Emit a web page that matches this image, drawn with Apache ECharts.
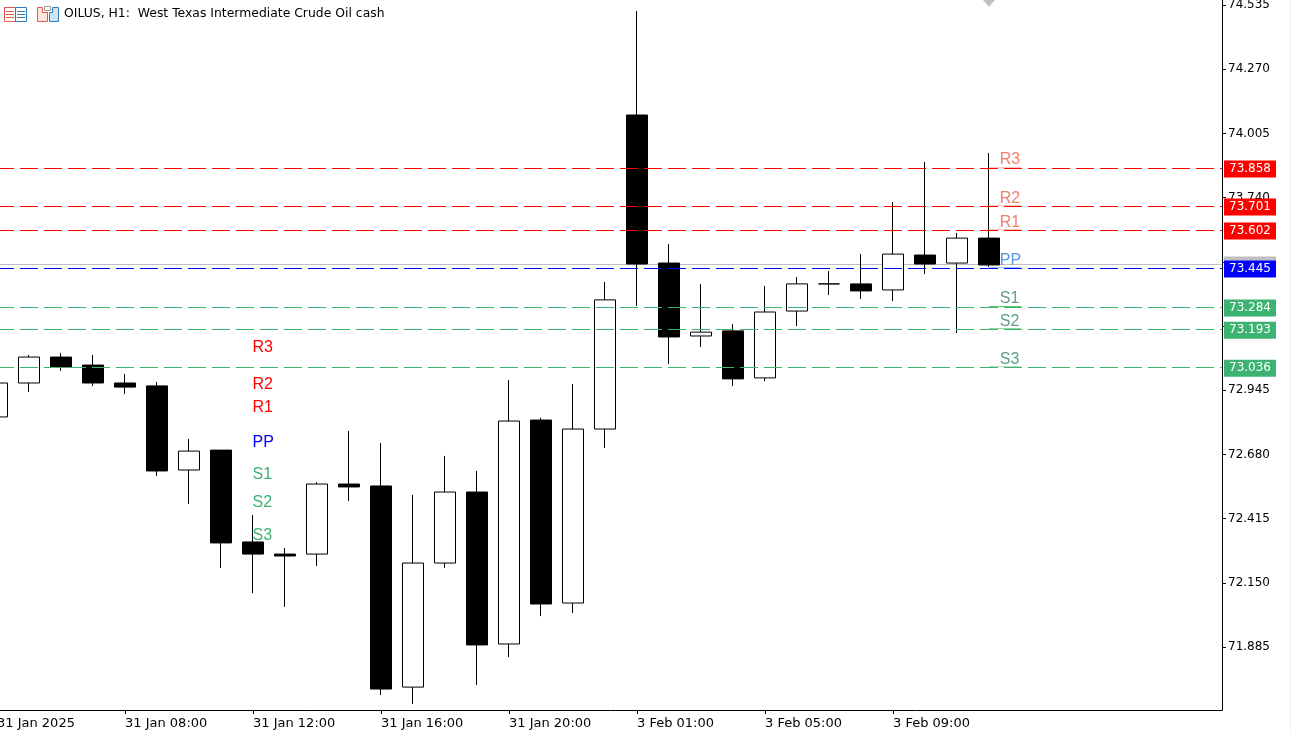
<!DOCTYPE html>
<html>
<head>
<meta charset="utf-8">
<title>OILUS, H1</title>
<style>
html, body { margin: 0; padding: 0; background: #fff; }
#chart { width: 1291px; height: 732px; }
</style>
<script src="https://cdn.jsdelivr.net/npm/echarts@6/dist/echarts.min.js"></script>
</head>
<body>
<div id="chart"></div>
<script>
// candles, index 0 is the 31 Jan 04:00 bar
var opens  = [72.835, 72.975, 73.082, 73.049, 72.975, 72.963, 72.616, 72.698, 72.319, 72.269, 72.269, 72.558, 72.550, 71.720, 72.232, 72.525, 71.898, 72.822, 72.067, 72.785, 74.081, 73.470, 73.169, 73.190, 72.996, 73.272, 73.384, 73.384, 73.359, 73.503, 73.470, 73.573];
var closes = [72.975, 73.082, 73.041, 72.975, 72.958, 72.612, 72.694, 72.315, 72.269, 72.261, 72.558, 72.546, 71.712, 72.232, 72.525, 71.894, 72.818, 72.063, 72.785, 73.318, 73.466, 73.165, 73.185, 72.992, 73.268, 73.384, 73.384, 73.355, 73.507, 73.466, 73.573, 73.462];
var lows   = [72.800, 72.938, 73.025, 72.963, 72.930, 72.591, 72.476, 72.212, 72.108, 72.051, 72.220, 72.488, 71.687, 71.650, 72.212, 71.729, 71.844, 72.013, 72.026, 72.707, 73.293, 73.053, 73.124, 72.963, 72.983, 73.210, 73.338, 73.322, 73.313, 73.425, 73.181, 73.454];
var highs  = [73.000, 73.091, 73.099, 73.091, 73.012, 72.979, 72.744, 72.698, 72.430, 72.294, 72.566, 72.777, 72.727, 72.513, 72.674, 72.612, 72.987, 72.831, 72.971, 73.392, 74.510, 73.549, 73.384, 73.218, 73.375, 73.412, 73.437, 73.507, 73.722, 73.887, 73.594, 73.924];

var yTicks = [74.535, 74.270, 74.005, 73.740, 73.475, 73.210, 72.945, 72.680, 72.415, 72.150, 71.885];
// 73.475 and 73.210 are hidden behind the price tags
var yTickLabels = [74.535, 74.270, 74.005, 73.740, 72.945, 72.680, 72.415, 72.150, 71.885];
var xTicks = [0, 4, 8, 12, 16, 20, 24, 28];
var xTickLabels = ['31 Jan 2025', '31 Jan 08:00', '31 Jan 12:00', '31 Jan 16:00', '31 Jan 20:00', '3 Feb 01:00', '3 Feb 05:00', '3 Feb 09:00'];

// current pivot levels
var levelNames = ['R3', 'R2', 'R1', 'PP', 'S1', 'S2', 'S3'];
var levelValues = [73.858, 73.701, 73.602, 73.445, 73.284, 73.193, 73.036];
var lastPrice = 73.462;

// pivot texts, older set on the left and current set on the right
var oldLabelValues = [73.121, 72.968, 72.873, 72.729, 72.595, 72.481, 72.345];
var newLabelValues = [73.895, 73.737, 73.638, 73.481, 73.324, 73.229, 73.072];

var levelColors = ['#ff0000', '#ff0000', '#ff0000', '#0000ff', '#3cb371', '#3cb371', '#3cb371'];
var oldLabelColors = ['#ff0000', '#ff0000', '#ff0000', '#0000ff', '#3cb371', '#3cb371', '#3cb371'];
var newLabelColors = ['#ef8070', '#ef8070', '#ef8070', '#5b96e6', '#5f9f7f', '#5f9f7f', '#5f9f7f'];
var underlineColors = ['#fbc4bc', '#fbc4bc', '#fbc4bc', '#9cc4f2', '#5fc46f', '#8fd89a', '#b5e2bd'];

var oldLabelX = 7.97;
var newLabelX = 31.32;
var lastBar = 31;
var uiFont = '"DejaVu Sans", sans-serif';

var candleData = [];
for (var i = 0; i < opens.length; i++) {
    candleData.push([i, opens[i], closes[i], lows[i], highs[i]]);
}

function labelPoints(x, values, names, colors) {
    return values.map(function (v, i) {
        return {
            value: [x, v],
            label: { formatter: names[i], color: colors[i] }
        };
    });
}

// snap a price to a whole pixel row so the 1px lines stay crisp
function priceRow(api, v) {
    return Math.floor(api.coord([0, v])[1] - 0.5) + 0.5;
}

function renderLevel(params, api) {
    var y = priceRow(api, levelValues[params.dataIndex]);
    var box = params.coordSys;
    return {
        type: 'line',
        shape: { x1: box.x, y1: y, x2: box.x + box.width, y2: y },
        style: {
            stroke: levelColors[params.dataIndex],
            lineWidth: 1,
            lineDash: [18, 6],
            lineDashOffset: 1
        }
    };
}

function renderUnderline(params, api) {
    var y = priceRow(api, levelValues[params.dataIndex]) - 1;
    return {
        type: 'line',
        shape: {
            x1: api.coord([lastBar, 0])[0],
            y1: y,
            x2: api.coord([lastBar + 1, 0])[0],
            y2: y
        },
        style: { stroke: underlineColors[params.dataIndex], lineWidth: 1 }
    };
}

function renderLastPrice(params, api) {
    var y = priceRow(api, lastPrice);
    var box = params.coordSys;
    return {
        type: 'line',
        shape: { x1: box.x, y1: y, x2: box.x + box.width, y2: y },
        style: { stroke: '#c0c0c0', lineWidth: 1 }
    };
}

var textSeries = {
    type: 'scatter',
    symbolSize: 1,
    itemStyle: { color: 'rgba(0,0,0,0)', opacity: 1 },
    silent: true,
    z: 6,
    label: {
        show: true,
        position: 'right',
        distance: 0,
        fontFamily: '"Liberation Sans", Arial, sans-serif',
        fontSize: 16
    }
};

var tagLabel = {
    position: 'end',
    distance: 2,
    padding: [2, 5],
    lineHeight: 13,
    color: '#fff',
    fontFamily: uiFont,
    fontSize: 12,
    formatter: function (p) { return p.value.toFixed(3); }
};

var myChart = echarts.init(document.getElementById('chart'));
var option = {
    animation: false,
    backgroundColor: '#fff',
    grid: {
        left: -3,
        top: 0,
        right: 69,
        bottom: 22,
        outerBoundsMode: 'none'
    },
    xAxis: {
        type: 'value',
        min: 0,
        max: 38.28125,
        splitLine: { show: false },
        axisLine: { onZero: false, lineStyle: { color: '#000', width: 1 } },
        axisTick: { customValues: xTicks, length: 4, lineStyle: { color: '#000' } },
        axisLabel: {
            customValues: xTicks,
            align: 'left',
            margin: 7,
            color: '#000',
            fontFamily: uiFont,
            fontSize: 13,
            formatter: function (v) {
                return xTickLabels[xTicks.indexOf(v)];
            }
        }
    },
    yAxis: {
        type: 'value',
        position: 'right',
        min: 71.6255,
        max: 74.5556,
        splitLine: { show: false },
        axisLine: { onZero: false, lineStyle: { color: '#000', width: 1 } },
        axisTick: { customValues: yTicks, length: 4, lineStyle: { color: '#000' } },
        axisLabel: {
            customValues: yTickLabels,
            margin: 6,
            padding: [2, 0, 0, 0],
            color: '#000',
            fontFamily: uiFont,
            fontSize: 12,
            formatter: function (v) {
                return v.toFixed(3);
            }
        }
    },
    series: [
        {
            // last price line sits behind the candles
            type: 'custom',
            silent: true,
            z: 1,
            renderItem: renderLastPrice,
            data: [lastPrice]
        },
        {
            // price tags on the right, the line of the mark itself is hidden
            type: 'line',
            data: [],
            markLine: {
                silent: true,
                z: 4,
                precision: 3,
                symbol: 'none',
                lineStyle: { color: 'rgba(0,0,0,0)', width: 1 },
                // only the top edge of this tag shows above the blue one
                label: Object.assign({}, tagLabel, { color: '#c0c0c0', backgroundColor: '#c0c0c0' }),
                data: [{ yAxis: lastPrice }]
            }
        },
        {
            type: 'line',
            data: [],
            markLine: {
                silent: true,
                z: 5,
                precision: 3,
                symbol: 'none',
                lineStyle: { color: 'rgba(0,0,0,0)', width: 1 },
                label: tagLabel,
                data: levelValues.map(function (v, i) {
                    return { yAxis: v, label: { backgroundColor: levelColors[i] } };
                })
            }
        },
        {
            type: 'candlestick',
            barWidth: 22,
            z: 2,
            data: candleData,
            itemStyle: {
                color: '#fff',
                color0: '#000',
                borderColor: '#000',
                borderColor0: '#000',
                borderWidth: 1
            }
        },
        {
            type: 'custom',
            silent: true,
            z: 5,
            renderItem: renderUnderline,
            data: levelValues
        },
        {
            type: 'custom',
            silent: true,
            z: 5,
            renderItem: renderLevel,
            data: levelValues
        },
        Object.assign({}, textSeries, { data: labelPoints(oldLabelX, oldLabelValues, levelNames, oldLabelColors) }),
        Object.assign({}, textSeries, { data: labelPoints(newLabelX, newLabelValues, levelNames, newLabelColors) }),
        {
            // grey marker above the last bar, cut by the top of the window
            type: 'scatter',
            symbol: 'triangle',
            symbolRotate: 180,
            symbolSize: [16, 9],
            silent: true,
            clip: false,
            itemStyle: { color: '#c0c0c0', opacity: 1 },
            data: [[lastBar, 74.546]]
        }
    ],
    graphic: [
        {
            type: 'text',
            left: 64,
            top: 8,
            style: {
                text: 'OILUS, H1:  West Texas Intermediate Crude Oil cash',
                fill: '#000',
                font: '12.4px ' + uiFont
            }
        },
        // toolbar icons in the corner
        { type: 'rect', shape: { x: 4.5, y: 7.5, width: 11, height: 14 }, style: { fill: '#fff', stroke: '#e2574c', lineWidth: 1 } },
        { type: 'rect', shape: { x: 15.5, y: 7.5, width: 11, height: 14 }, style: { fill: '#fff', stroke: '#2b7cbf', lineWidth: 1 } },
        { type: 'line', shape: { x1: 6, y1: 11.5, x2: 14, y2: 11.5 }, style: { stroke: '#e2574c' } },
        { type: 'line', shape: { x1: 6, y1: 14.5, x2: 14, y2: 14.5 }, style: { stroke: '#e2574c' } },
        { type: 'line', shape: { x1: 6, y1: 17.5, x2: 14, y2: 17.5 }, style: { stroke: '#e2574c' } },
        { type: 'line', shape: { x1: 17, y1: 11.5, x2: 25, y2: 11.5 }, style: { stroke: '#2b7cbf' } },
        { type: 'line', shape: { x1: 17, y1: 14.5, x2: 25, y2: 14.5 }, style: { stroke: '#2b7cbf' } },
        { type: 'line', shape: { x1: 17, y1: 17.5, x2: 25, y2: 17.5 }, style: { stroke: '#2b7cbf' } },
        { type: 'polygon', shape: { points: [[37.5, 7.5], [42.5, 7.5], [42.5, 12.5], [47.5, 12.5], [47.5, 21.5], [37.5, 21.5]] }, style: { fill: '#fde6dc', stroke: '#e2574c', lineWidth: 1 } },
        { type: 'polygon', shape: { points: [[52.5, 12.5], [52.5, 7.5], [58.5, 7.5], [58.5, 21.5], [49.5, 21.5], [49.5, 12.5]] }, style: { fill: '#cfe5f6', stroke: '#2b7cbf', lineWidth: 1 } },
        { type: 'rect', shape: { x: 44.5, y: 6.5, width: 6, height: 4 }, style: { fill: '#fff', stroke: '#9a9a9a', lineWidth: 1 } },
        // window edge
        { type: 'rect', shape: { x: 1290, y: 0, width: 1, height: 732 }, style: { fill: '#f0f0f0' } }
    ]
};

myChart.setOption(option);
</script>
</body>
</html>
